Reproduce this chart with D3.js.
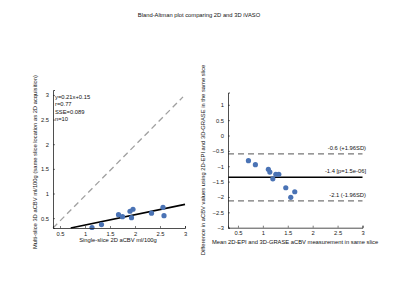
<!DOCTYPE html>
<html><head><meta charset="utf-8">
<script src="https://cdn.jsdelivr.net/npm/d3@7"></script>
<style>body{margin:0;background:#fff}svg{font-family:"Liberation Sans",Arial,sans-serif}</style>
</head><body>
<svg id="c" width="400" height="300"></svg>
<script>
// Left: scatter / regression
const single2D = [1.14,1.33,1.67,1.75,1.90,1.96,1.93,2.33,2.56,2.58];
const multi3D  = [0.31,0.37,0.57,0.53,0.64,0.68,0.51,0.60,0.72,0.55];
const fitSlope = 0.21, fitIntercept = 0.15;
const statsText = ["y=0.21x+0.15","r=0.77","SSE=0.089","n=10"];
const leftTicks = [0.5,1,1.5,2,2.5,3];
// Right: Bland-Altman
const meanVals = [0.71,0.85,1.11,1.14,1.20,1.26,1.32,1.46,1.56,1.64];
const diffVals = [-0.82,-0.95,-1.10,-1.19,-1.41,-1.26,-1.26,-1.70,-2.01,-1.83];
const baLines = [
  {v:-0.6, label:"-0.6 (+1.96SD)", dashed:true},
  {v:-1.36, label:"-1.4 [p=1.5e-06]", dashed:false},
  {v:-2.13, label:"-2.1 (-1.96SD)", dashed:true}
];
const rightXTicks = [0.5,1,1.5,2,2.5,3];
const rightYTicks = [1,0.5,0,-0.5,-1,-1.5,-2,-2.5,-3];

const svg = d3.select("#c");
const dotColor = "#4a73b5";
const fs = 5.8;

svg.append("text").attr("x",199).attr("y",17).attr("text-anchor","middle")
  .attr("font-size",5.8).attr("fill","#111").text("Bland-Altman plot comparing 2D and 3D iVASO");

function axisStyle(g){
  g.select(".domain").attr("stroke","#222").attr("stroke-width",0.8);
  g.selectAll(".tick line").attr("stroke","#222").attr("stroke-width",0.6);
  g.selectAll(".tick text").attr("font-size",fs).attr("fill","#222").attr("font-family","Liberation Sans, Arial");
}

// ---- Left plot
const lx = d3.scaleLinear().domain([0.36,3]).range([53,185]);
const ly = d3.scaleLinear().domain([0.3,3.1]).range([228,90]);
const L = svg.append("g");
L.append("line").attr("x1",lx(0.36)).attr("y1",ly(0.3)).attr("x2",lx(2.96)).attr("y2",ly(2.96))
  .attr("stroke","#a0a0a0").attr("stroke-width",1.3).attr("stroke-dasharray","6,4");
const fx0 = (0.3-fitIntercept)/fitSlope;
L.append("line").attr("x1",lx(fx0)).attr("y1",ly(0.3)).attr("x2",lx(3)).attr("y2",ly(fitSlope*3+fitIntercept))
  .attr("stroke","#000").attr("stroke-width",1.6);
L.selectAll("circle").data(single2D).join("circle")
  .attr("cx",(d)=>lx(d)).attr("cy",(d,i)=>ly(multi3D[i])).attr("r",2.6).attr("fill",dotColor);
const lxa = L.append("g").attr("transform","translate(0,228)")
  .call(d3.axisBottom(lx).tickValues(leftTicks).tickSize(-2).tickPadding(3.5).tickFormat(d3.format("")));
axisStyle(lxa);
const lya = L.append("g").attr("transform","translate(53,0)")
  .call(d3.axisLeft(ly).tickValues(leftTicks).tickSize(-2).tickPadding(4).tickFormat(d3.format("")));
axisStyle(lya);
L.selectAll(".stat").data(statsText).join("text").attr("class","stat")
  .attr("x",55).attr("y",(d,i)=>99+i*7.3).attr("font-size",fs).attr("fill","#111").text(d=>d);
L.append("text").attr("x",118).attr("y",242).attr("text-anchor","middle").attr("font-size",fs)
  .attr("fill","#111").text("Single-slice 2D aCBV ml/100g");
L.append("text").attr("transform","translate(37,162) rotate(-90)").attr("text-anchor","middle")
  .attr("font-size",fs).attr("fill","#111").text("Multi-slice 3D aCBV ml/100g (same slice location as 2D acquisition)");

// ---- Right plot
const rx = d3.scaleLinear().domain([0.3,3]).range([228,362.5]);
const ry = d3.scaleLinear().domain([-3,1.4]).range([227.7,92.5]);
const R = svg.append("g");
R.selectAll("line.ba").data(baLines).join("line").attr("class","ba")
  .attr("x1",rx(0.3)).attr("x2",rx(3)).attr("y1",d=>ry(d.v)).attr("y2",d=>ry(d.v))
  .attr("stroke",d=>d.dashed?"#777":"#000").attr("stroke-width",d=>d.dashed?1.3:1.6)
  .attr("stroke-dasharray",d=>d.dashed?"6,4":null);
R.selectAll("text.bal").data(baLines).join("text").attr("class","bal")
  .attr("x",366).attr("y",d=>ry(d.v)-4).attr("text-anchor","end").attr("font-size",fs).attr("fill","#111").text(d=>d.label);
R.selectAll("circle").data(meanVals).join("circle")
  .attr("cx",d=>rx(d)).attr("cy",(d,i)=>ry(diffVals[i])).attr("r",2.6).attr("fill",dotColor);
const rxa = R.append("g").attr("transform","translate(0,227.7)")
  .call(d3.axisBottom(rx).tickValues(rightXTicks).tickSize(-2).tickPadding(3.5).tickFormat(d3.format("")));
axisStyle(rxa);
const rya = R.append("g").attr("transform","translate(228,0)")
  .call(d3.axisLeft(ry).tickValues(rightYTicks).tickSize(-2).tickPadding(4).tickFormat(d3.format("")));
axisStyle(rya);
R.append("text").attr("x",295).attr("y",244).attr("text-anchor","middle").attr("font-size",fs)
  .attr("fill","#111").text("Mean 2D-EPI and 3D-GRASE aCBV measurement in same slice");
R.append("text").attr("transform","translate(205,160) rotate(-90)").attr("text-anchor","middle")
  .attr("font-size",fs).attr("fill","#111").text("Difference in aCBV values using 2D-EPI and 3D-GRASE in the same slice");
</script>
</body></html>
